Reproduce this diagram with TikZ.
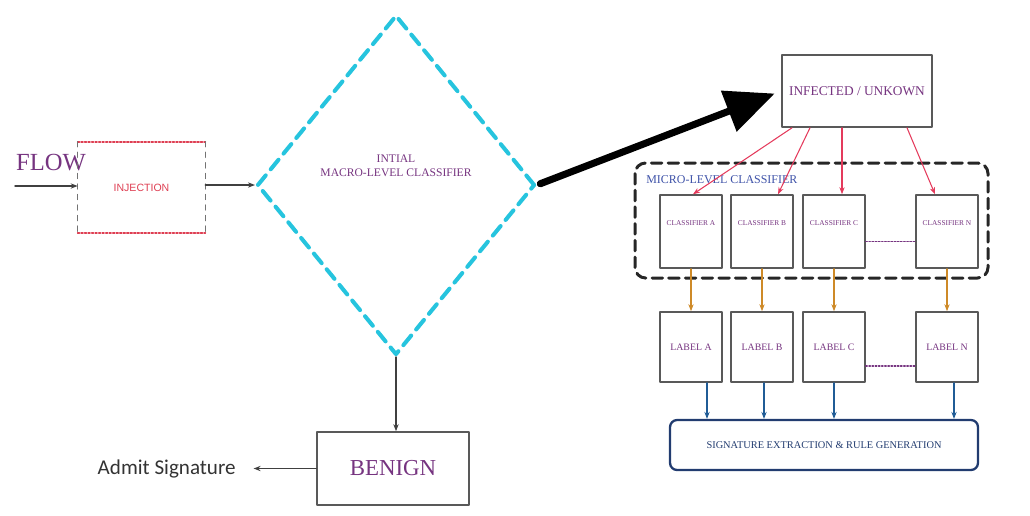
\documentclass[tikz,border=0pt]{standalone}
\usepackage{fontspec}
\setmainfont{Liberation Serif}
\setsansfont{Liberation Sans}
\newfontfamily\admitfont{Carlito}
\usetikzlibrary{shapes.geometric,arrows.meta,positioning,calc}

\definecolor{flowpurple}{RGB}{118,52,128}
\definecolor{macrocyan}{RGB}{38,196,222}
\definecolor{injred}{RGB}{222,62,82}
\definecolor{edgered}{RGB}{228,58,92}
\definecolor{edgeorange}{RGB}{206,138,40}
\definecolor{edgeblue}{RGB}{32,92,150}
\definecolor{sigblue}{RGB}{34,60,112}
\definecolor{microblue}{RGB}{62,82,168}

\begin{document}
\begin{tikzpicture}[x=0.02cm, y=-0.02cm, line cap=round, line join=round,
    box/.style={draw=black!65, line width=0.9pt, fill=white, inner sep=0pt},
    clsbox/.style={box, minimum width=1.24cm, text height=0.6cm, text depth=0.86cm,
        text=flowpurple, font=\fontsize{4.2}{5}\selectfont},
    lblbox/.style={box, minimum width=1.24cm, minimum height=1.4cm,
        text=flowpurple, font=\fontsize{5.6}{6.5}\selectfont},
    arr/.style={draw=black!75, line width=0.8pt, -{Stealth[length=4pt,width=3pt]}},
    redarr/.style={draw=edgered, line width=0.6pt, -{Stealth[length=4pt,width=3pt]}},
    orangearr/.style={draw=edgeorange, line width=0.6pt, -{Stealth[length=4pt,width=3pt]}},
    bluearr/.style={draw=edgeblue, line width=0.6pt, -{Stealth[length=4pt,width=3pt]}}]

    \useasboundingbox (0,0) rectangle (1030,515);

    % --- 1. Flow and injection ---
    \node[anchor=west, text=flowpurple, font=\fontsize{14}{16}\selectfont] (flow) at (10,163) {FLOW};
    \coordinate (flowin) at (15,186);
    \node[inner sep=0pt, minimum width=2.54cm, minimum height=1.82cm,
        text=injred, font=\sffamily\fontsize{6}{7}\selectfont] (inj) at (141.5,187.5) {INJECTION};
    % red dotted top and bottom, gray dashed sides
    \draw[injred, line width=1pt, densely dotted] (inj.north west) -- (inj.north east);
    \draw[injred, line width=1pt, densely dotted] (inj.south west) -- (inj.south east);
    \draw[black!55, line width=0.6pt, dashed] (inj.north west) -- (inj.south west);
    \draw[black!55, line width=0.6pt, dashed] (inj.north east) -- (inj.south east);
    \draw[arr] (flowin) -- (flowin -| inj.west);

    % --- 2. Macro-level classifier ---
    \node[diamond, draw=macrocyan, line width=2.3pt, dash pattern=on 7pt off 4.5pt,
        minimum width=5.56cm, minimum height=6.8cm, inner sep=0pt, align=center,
        text=flowpurple, font=\fontsize{6.6}{8}\selectfont] (macro) at (396,185)
        {INTIAL\\MACRO-LEVEL CLASSIFIER\\[14pt]};
    \draw[arr] (inj.east |- macro.west) -- (macro.west);

    % --- 3. Infected branch ---
    \node[box, minimum width=3cm, minimum height=1.44cm, text=flowpurple,
        font=\fontsize{7.6}{9}\selectfont] (infected) at (857,91) {INFECTED / UNKOWN};
    \draw[line width=4pt, -{Triangle[length=28pt,width=24pt]}, shorten <=2pt, shorten >=4pt]
        (macro.east) -- (infected.west);

    % micro-level container
    \draw[black!85, line width=1.7pt, dash pattern=on 6pt off 3.5pt, rounded corners=6pt]
        (635,163) rectangle (988,278);
    \node[anchor=north west, inner sep=0pt, text=microblue,
        font=\fontsize{6.8}{8}\selectfont] (micro) at (646,175) {MICRO-LEVEL CLASSIFIER};

    \node[clsbox] (clsA) at (691,231.5) {CLASSIFIER A};
    \node[clsbox] (clsB) at (762,231.5) {CLASSIFIER B};
    \node[clsbox] (clsC) at (834,231.5) {CLASSIFIER C};
    \node[clsbox] (clsN) at (947,231.5) {CLASSIFIER N};
    \draw[flowpurple, line width=0.8pt, densely dotted]
        ([yshift=-0.2cm]clsC.east) -- ([yshift=-0.2cm]clsN.west);

    \draw[redarr] ($(infected.south)+(-65,0)$) -- ($(clsA.north)+(2,0)$);
    \draw[redarr] ($(infected.south)+(-47,0)$) -- ($(clsB.north)+(16,0)$);
    \draw[redarr] ($(infected.south)+(-15,0)$) -- ($(clsC.north)+(8,0)$);
    \draw[redarr] ($(infected.south)+(50,0)$) -- ($(clsN.north)+(-12,0)$);

    % labels
    \node[lblbox] (lblA) at (691,347) {LABEL A};
    \node[lblbox] (lblB) at (762,347) {LABEL B};
    \node[lblbox] (lblC) at (834,347) {LABEL C};
    \node[lblbox] (lblN) at (947,347) {LABEL N};
    \draw[flowpurple, line width=0.8pt, densely dotted]
        ([yshift=-0.38cm]lblC.east) -- ([yshift=-0.38cm]lblN.west);

    \foreach \n in {A,B,C,N}
        \draw[orangearr] (cls\n.south) -- (lbl\n.north);

    \node[box, draw=sigblue, line width=1.3pt, rounded corners=4pt, minimum width=6.16cm,
        minimum height=1cm, text=sigblue, font=\fontsize{5.9}{7}\selectfont] (sig) at (824,445)
        {SIGNATURE EXTRACTION \& RULE GENERATION};

    \draw[bluearr] ([xshift=0.32cm]lblA.south) -- ([xshift=0.32cm]lblA.south |- sig.north);
    \draw[bluearr] ([xshift=0.04cm]lblB.south) -- ([xshift=0.04cm]lblB.south |- sig.north);
    \draw[bluearr] (lblC.south) -- (lblC.south |- sig.north);
    \draw[bluearr] ([xshift=0.14cm]lblN.south) -- ([xshift=0.14cm]lblN.south |- sig.north);

    % --- 4. Benign branch ---
    \node[box, minimum width=3.04cm, minimum height=1.46cm, text=flowpurple,
        font=\fontsize{13}{15}\selectfont] (benign) at (393,468.5) {BENIGN};
    \draw[arr] (macro.south) -- (macro.south |- benign.north);

    \node[anchor=east, inner sep=0pt, text=black!80,
        font=\admitfont\fontsize{12}{14}\selectfont] (admit) at (236,469) {Admit Signature};
    \draw[arr, shorten >=10pt] (benign.west) -- (benign.west -| admit.east);
\end{tikzpicture}
\end{document}
